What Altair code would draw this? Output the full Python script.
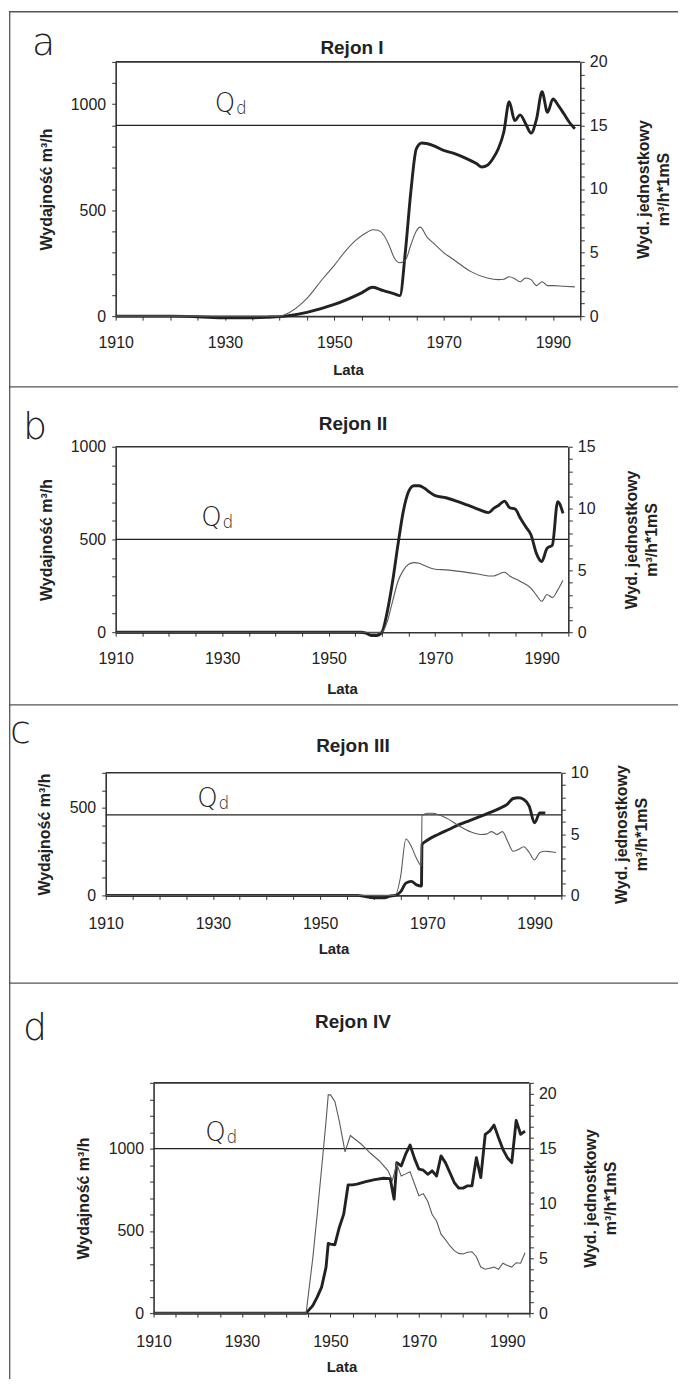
import altair as alt
import pandas as pd

# ---------------- data ----------------
# Panel a - Rejon I
A_Q_YEARS = [1910, 1920, 1925, 1930, 1935, 1938, 1941, 1945, 1950, 1955, 1957, 1959, 1961, 1962,
             1963, 1964, 1965, 1966, 1968, 1970, 1972, 1974, 1976, 1977, 1978, 1979, 1980, 1981,
             1982, 1983, 1984, 1985, 1986, 1987, 1988, 1989, 1990, 1991, 1992, 1993, 1994]
A_Q = [0, 0, -3, -8, -8, -5, 0, 18, 55, 110, 136, 120, 105, 97,
       305, 587, 790, 817, 806, 782, 767, 746, 720, 704, 712, 743, 790, 868,
       1012, 923, 950, 908, 864, 931, 1059, 962, 1025, 994, 955, 915, 884]
A_U_YEARS = [1910, 1925, 1930, 1935, 1940, 1941, 1945, 1948, 1950, 1952, 1954, 1956, 1957, 1958,
             1959, 1960, 1961, 1962, 1963, 1964, 1965, 1965.7, 1967, 1968, 1970, 1972, 1975, 1978,
             1980, 1981, 1982, 1983, 1984, 1985, 1986, 1987, 1988, 1989, 1990, 1992, 1994]
A_U = [0, 0, 0, 0, 0, 0.13, 1.4, 3.0, 4.0, 5.1, 6.0, 6.6, 6.8, 6.75,
       6.4, 5.6, 4.55, 4.2, 4.4, 5.6, 6.7, 7.0, 6.2, 5.8, 5.0, 4.4, 3.5, 3.0,
       2.87, 2.9, 3.1, 2.95, 2.7, 3.0, 2.87, 2.4, 2.7, 2.4, 2.4, 2.35, 2.3]

# Panel b - Rejon II
B_Q_YEARS = [1910, 1940, 1956, 1957, 1958, 1959, 1960, 1961, 1962, 1963, 1964, 1965, 1966, 1967,
             1968, 1969, 1970, 1972, 1974, 1976, 1978, 1980, 1981, 1982, 1983, 1984, 1985, 1986,
             1987, 1988, 1989, 1990, 1991, 1992, 1993, 1994]
B_Q = [0, 0, 0, -5, -18, -18, 0, 111, 273, 470, 650, 758, 790, 790,
       776, 754, 736, 725, 707, 686, 664, 645, 668, 686, 707, 671, 664, 614,
       569, 524, 425, 381, 452, 470, 704, 641]
B_U_YEARS = [1910, 1959, 1960, 1961, 1962, 1963, 1964, 1965, 1966, 1967, 1968, 1970, 1972, 1975,
             1978, 1980, 1981, 1982, 1983, 1984, 1986, 1988, 1989, 1990, 1991, 1992, 1993, 1994]
B_U = [0, 0, 0, 0.86, 2.5, 4.1, 5.0, 5.5, 5.63, 5.57, 5.39, 5.09, 5.04, 4.9,
       4.71, 4.55, 4.55, 4.71, 4.85, 4.55, 4.1, 3.55, 3.0, 2.5, 3.05, 2.8, 3.4, 4.2]

# Panel c - Rejon III
C_Q_YEARS = [1910, 1957, 1958, 1960, 1962, 1963, 1964, 1965, 1966, 1967, 1968, 1968.9, 1969.0,
             1970, 1972, 1974, 1976, 1978, 1980, 1982, 1984, 1985, 1986, 1987, 1988, 1989, 1990,
             1991, 1992]
C_Q = [0, 0, -4, -13, -13, -4, 0, 20, 70, 80, 60, 53, 290,
       315, 348, 376, 405, 428, 452, 477, 504, 523, 553, 557, 548, 510, 414,
       471, 471]
C_U_YEARS = [1910, 1963, 1964, 1965, 1966, 1967, 1968, 1968.9, 1969.0, 1970, 1971, 1972, 1974,
             1976, 1978, 1980, 1981, 1982, 1983, 1984, 1985, 1986, 1987, 1988, 1989, 1990, 1991,
             1992, 1993, 1994]
C_U = [0, 0, 0, 1.5, 4.6, 4.0, 3.0, 2.4, 6.5, 6.7, 6.7, 6.6, 6.2,
       5.65, 5.2, 4.97, 5.0, 5.2, 4.97, 5.2, 4.4, 3.6, 3.75, 3.97, 3.5, 2.9, 3.5,
       3.6, 3.56, 3.5]

# Panel d - Rejon IV
D_Q_YEARS = [1910, 1944.5, 1946, 1947, 1948, 1949, 1949.5, 1950, 1951, 1952, 1953, 1954, 1955,
             1956, 1958, 1960, 1962, 1963.5, 1964.4, 1965, 1966, 1967, 1968, 1969, 1970, 1971,
             1972, 1973, 1974, 1975, 1976, 1977, 1978, 1979, 1980, 1981, 1982, 1983, 1984, 1985,
             1986, 1987, 1988, 1989, 1990, 1991, 1992, 1993, 1994]
D_Q = [0, 0, 46, 97, 158, 279, 424, 420, 416, 521, 602, 780, 780,
       784, 800, 812, 820, 818, 693, 915, 895, 966, 1022, 941, 875, 869,
       844, 865, 834, 956, 915, 855, 794, 760, 760, 774, 774, 945, 824, 1087,
       1107, 1143, 1067, 996, 945, 915, 1172, 1087, 1107]
D_U_YEARS = [1910, 1944.5, 1946, 1947, 1948, 1949, 1949.5, 1950, 1951, 1952, 1953.3, 1954.5,
             1957, 1959, 1961, 1963, 1964, 1965, 1966, 1967, 1968, 1969, 1970, 1971, 1972, 1973,
             1974, 1975, 1976, 1977, 1978, 1979, 1980, 1981, 1982, 1983, 1984, 1985, 1986, 1987,
             1988, 1989, 1990, 1991, 1992, 1993, 1994]
D_U = [0, 0, 5.0, 9.0, 13.2, 17.5, 19.9, 19.9, 19.3, 17.5, 14.7, 16.2,
       15.4, 14.6, 13.9, 13.0, 12.1, 13.6, 12.5, 12.7, 12.9, 11.8, 10.7, 10.9, 10.2, 9.0,
       8.4, 7.2, 6.7, 6.15, 5.7, 5.45, 5.4, 5.55, 5.6, 5.15, 4.2, 4.0, 4.1, 4.2,
       4.0, 4.55, 4.35, 4.2, 4.6, 4.55, 5.5]

TITLES = ["Rejon I", "Rejon II", "Rejon III", "Rejon IV"]
LETTERS = ["a", "b", "c", "d"]
QD = [900, 500, 460, 1000]
LEFT_MAX = [1200, 1000, 700, 1400]
RIGHT_MAX = [20, 15, 10, 21]
YEAR_MIN, YEAR_MAX = 1910, 1995
QLABEL_YEAR = [1930, 1928, 1929, 1924]
QLABEL_VALUE = [1000, 613, 552, 1097]

X_TITLE = "Lata"
Y_LEFT_TITLE = "Wydajność m³/h"
Y_RIGHT_TITLE = ["Wyd. jednostkowy", "m³/h*1mS"]

# ---------------- layout (page pixels; the view starts at page 8,8) ----------------
VIEW_W, VIEW_H = 671, 1372
LAYOUT = [
    dict(L=115, T=59, W=466, H=255, title=(352, 45), letter=(31, 52),
         lt=69, rt=63, xl=14, lata=54, interp="monotone"),
    dict(L=115, T=445, W=454, H=186, title=(353, 422), letter=(22, 437),
         lt=69, rt=63, xl=14, lata=56, interp="monotone"),
    dict(L=105, T=772, W=457, H=123, title=(353, 745), letter=(9, 742),
         lt=61, rt=60, xl=16, lata=53, interp="monotone"),
    dict(L=153, T=1083, W=377, H=231, title=(353, 1022), letter=(22, 1040),
         lt=70, rt=61, xl=16, lata=54, interp="linear"),
]
SEPARATORS_Y = [385, 704, 983]

FONT = "Liberation Sans"
INK = "#222222"
THIN = "#5a5a5a"
FRAME = "#555555"
AXIS_INK = "#333333"

SERIES = [
    (A_Q_YEARS, A_Q, A_U_YEARS, A_U),
    (B_Q_YEARS, B_Q, B_U_YEARS, B_U),
    (C_Q_YEARS, C_Q, C_U_YEARS, C_U),
    (D_Q_YEARS, D_Q, D_U_YEARS, D_U),
]

ONE = pd.DataFrame({"k": [0]})


def make_panel(i):
    qy, q, uy, u = SERIES[i]
    g = LAYOUT[i]
    L, T, W, H = g["L"] - 8, g["T"] - 8, g["W"], g["H"]   # view coordinates
    ymax, rmax = LEFT_MAX[i], RIGHT_MAX[i]

    dfq = pd.DataFrame({"year": qy, "v": q})
    dfu = pd.DataFrame({"year": uy, "v": u})
    dfqd = pd.DataFrame({"year": [YEAR_MIN], "year2": [YEAR_MAX], "v": [QD[i]]})
    dftop = pd.DataFrame({"year": [YEAR_MIN], "year2": [YEAR_MAX], "v": [ymax]})
    dflab = pd.DataFrame({"year": [QLABEL_YEAR[i]], "v": [QLABEL_VALUE[i]]})

    common = dict(grid=False, labelOverlap=False, labelFlush=False, tickSize=4,
                  domainColor=AXIS_INK, domainWidth=1.6)
    x_axis = alt.Axis(
        orient="bottom", offset=(T + H) - VIEW_H,
        values=list(range(YEAR_MIN, YEAR_MAX + 1, 5)),
        labelExpr="datum.value % 20 == 10 ? format(datum.value, 'd') : ''",
        title=X_TITLE, titleX=L + W / 2, titleY=g["lata"], titleBaseline="middle",
        titleAlign="center", titleFontSize=15, labelPadding=g["xl"], **common,
    )
    left_axis = alt.Axis(
        orient="left", offset=-L, values=list(range(0, ymax + 1, 100)),
        labelExpr="datum.value % 500 == 0 ? format(datum.value, 'd') : ''",
        title=Y_LEFT_TITLE, titleX=-g["lt"], titleY=T + H / 2, titleAngle=270,
        titleAlign="center", titleBaseline="middle", labelPadding=6, **common,
    )
    right_axis = alt.Axis(
        orient="right", offset=(L + W) - VIEW_W, values=list(range(0, rmax + 1)),
        labelExpr="datum.value % 5 == 0 ? format(datum.value, 'd') : ''",
        title=Y_RIGHT_TITLE, titleX=g["rt"], titleY=T + H / 2, titleAngle=270,
        titleAlign="center", titleBaseline="middle", titleLineHeight=20,
        labelPadding=5, **common,
    )

    xs = alt.Scale(domain=[YEAR_MIN, YEAR_MAX], range=[L, L + W], nice=False, zero=False)
    xenc = alt.X("year:Q", scale=xs, axis=x_axis)
    yl = alt.Y("v:Q", scale=alt.Scale(domain=[0, ymax], range=[T + H, T], nice=False), axis=left_axis)
    yr = alt.Y("v:Q", scale=alt.Scale(domain=[0, rmax], range=[T + H, T], nice=False), axis=right_axis)

    thick = alt.Chart(dfq).mark_line(
        interpolate=g["interp"], strokeWidth=2.9, color=INK, strokeJoin="round"
    ).encode(x=xenc, y=yl)
    qline = alt.Chart(dfqd).mark_rule(strokeWidth=1.3, color=INK).encode(
        x=xenc, x2=alt.X2("year2"), y=yl)
    topline = alt.Chart(dftop).mark_rule(strokeWidth=1.6, color=AXIS_INK).encode(
        x=xenc, x2=alt.X2("year2"), y=yl)
    qtext = alt.Chart(dflab).mark_text(
        text="Q", font="DejaVu Sans", fontWeight=200, fontSize=26, color=INK,
        align="center", baseline="middle"
    ).encode(x=xenc, y=yl)
    dtext = alt.Chart(dflab).mark_text(
        text="d", font="DejaVu Sans", fontWeight=200, fontSize=17, color=INK,
        align="left", baseline="middle", dx=11, dy=5
    ).encode(x=xenc, y=yl)
    left_group = alt.layer(thick, qline, topline, qtext, dtext)

    thin = alt.Chart(dfu).mark_line(
        interpolate=g["interp"], strokeWidth=1.1, color=THIN
    ).encode(x=xenc, y=yr)

    return alt.layer(left_group, thin).resolve_scale(y="independent")


def make_labels(i):
    g = LAYOUT[i]
    title = alt.Chart(ONE).mark_text(
        text=TITLES[i], font=FONT, fontSize=19, fontWeight="bold", color=INK,
        align="center", baseline="middle"
    ).encode(x=alt.value(g["title"][0] - 8), y=alt.value(g["title"][1] - 8))
    letter = alt.Chart(ONE).mark_text(
        text=LETTERS[i], font="DejaVu Sans", fontWeight=200, fontSize=38, color=INK,
        align="left", baseline="alphabetic"
    ).encode(x=alt.value(g["letter"][0] - 8), y=alt.value(g["letter"][1] - 8))
    return [title, letter]


deco = []
for sy in SEPARATORS_Y:
    deco.append(alt.Chart(ONE).mark_rule(color=FRAME, strokeWidth=1.3).encode(
        x=alt.value(0), x2=alt.value(VIEW_W), y=alt.value(sy - 8)))
deco.append(alt.Chart(ONE).mark_rule(color=FRAME, strokeWidth=1.3).encode(
    x=alt.value(0), x2=alt.value(VIEW_W), y=alt.value(0.7)))
deco.append(alt.Chart(ONE).mark_rule(color=FRAME, strokeWidth=1.3).encode(
    x=alt.value(0.7), y=alt.value(0), y2=alt.value(VIEW_H)))
for i in range(4):
    deco.extend(make_labels(i))

panels = [make_panel(i) for i in range(4)]

chart = alt.layer(*panels, *deco).resolve_scale(
    x="independent", y="independent"
).properties(
    width=VIEW_W, height=VIEW_H, padding=0, background="white"
).configure_view(
    stroke="transparent", strokeWidth=0
).configure_axis(
    labelFont=FONT, labelFontSize=16, labelColor=INK,
    titleFont=FONT, titleFontSize=16, titleFontWeight="bold", titleColor=INK,
    tickColor=AXIS_INK, tickWidth=1,
)

chart.save("out.html", embed_options={"renderer": "svg", "actions": False})
